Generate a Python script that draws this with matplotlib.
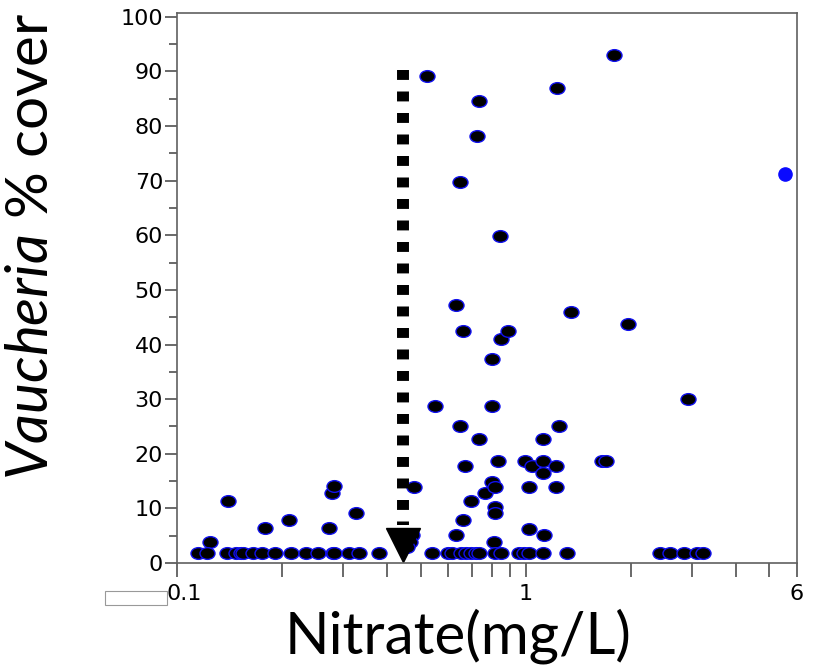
import numpy as np
import matplotlib
matplotlib.use("Agg")
import matplotlib.pyplot as plt
from matplotlib.path import Path
from matplotlib.markers import MarkerStyle
from matplotlib.ticker import FixedLocator, NullFormatter
from matplotlib.transforms import ScaledTranslation
from matplotlib.patches import Rectangle

# sites with some cover
nitrate = [0.124, 0.1403, 0.179, 0.21, 0.272, 0.278, 0.2813, 0.327,
           0.458, 0.473, 0.467, 0.458, 0.479,
           0.522, 0.55, 0.631, 0.631, 0.646, 0.646, 0.661, 0.661, 0.668, 0.695,
           0.723, 0.734, 0.734, 0.762, 0.801, 0.801, 0.801, 0.81, 0.815, 0.815,
           0.815, 0.834, 0.845, 0.851, 0.89,
           0.998, 1.025, 1.025, 1.04, 1.12, 1.12, 1.12, 1.13, 1.218, 1.218,
           1.232, 1.25, 1.348, 1.66, 1.70, 1.795, 1.968, 2.93]
cover = [3.9, 11.4, 6.4, 7.9, 6.4, 12.8, 14.1, 9.2,
         5.1, 5.1, 3.9, 3.0, 14.0,
         89.2, 28.8, 47.3, 5.2, 69.7, 25.0, 42.4, 7.9, 17.8, 11.4,
         78.2, 84.5, 22.7, 12.8, 37.3, 28.8, 14.9, 3.9, 14.0, 10.3,
         9.2, 18.7, 59.8, 41.1, 42.4,
         18.7, 14.0, 6.3, 17.8, 22.7, 18.7, 16.4, 5.2, 17.8, 14.0,
         86.9, 25.0, 46.0, 18.7, 18.7, 93.0, 43.7, 30.1]

# sites at the bottom row (near zero cover)
low_nitrate = [0.115, 0.1216, 0.1387, 0.148, 0.153, 0.1546, 0.165, 0.1753,
               0.1914, 0.2127, 0.2348, 0.2533, 0.2797, 0.2829, 0.3107, 0.3318,
               0.3785, 0.540, 0.599, 0.616, 0.651, 0.673, 0.695, 0.721, 0.734,
               0.819, 0.847, 0.955, 0.987, 1.025, 1.12, 1.312, 2.43, 2.60,
               2.84, 3.11, 3.23]
low_cover = [1.8] * len(low_nitrate)

# odd point in blue
blue_nitrate = [5.54]
blue_cover = [71.3]

# threshold arrow
threshold = 0.445
arrow_top = 90.3
arrow_bottom = 7.0

xticks_major = [0.1, 1, 6]
xtick_labels = ["0.1", "1", "6"]
xticks_minor = [0.2, 0.3, 0.4, 0.5, 0.6, 0.7, 0.8, 0.9, 2, 3, 4, 5]

# slightly flattened circle as marker
circ = Path.unit_circle()
ellipse = Path(circ.vertices * np.array([1.0, 0.78]), circ.codes)

fig = plt.figure(figsize=(8.2, 6.7), dpi=100)
ax = fig.add_axes([177 / 820, 1 - 563 / 670, 620 / 820, 550 / 670])

ax.plot(nitrate + low_nitrate, cover + low_cover, linestyle="none",
        marker=MarkerStyle(ellipse), markersize=10.8, markerfacecolor="black",
        markeredgecolor="#1010ee", markeredgewidth=1.0)
ax.plot(blue_nitrate, blue_cover, linestyle="none", marker="o", markersize=9.5,
        markerfacecolor="#0a0aff", markeredgecolor="#0a0aff")

ax.plot([threshold, threshold], [arrow_top, arrow_bottom], color="black",
        linewidth=8.6, linestyle=(0, (0.83, 0.97)), solid_capstyle="butt",
        dash_capstyle="butt")
ax.plot([threshold], [3.3], marker="v", markersize=24, color="black",
        linestyle="none")

ax.set_xscale("log")
ax.set_xlim(0.1, 6)
ax.set_ylim(0, 100.7)

ax.xaxis.set_major_locator(FixedLocator(xticks_major))
ax.set_xticklabels(xtick_labels)
ax.xaxis.set_minor_locator(FixedLocator(xticks_minor))
ax.xaxis.set_minor_formatter(NullFormatter())
ax.set_yticks(np.arange(0, 101, 10))
ax.set_yticks(np.arange(5, 100, 10), minor=True)

for s in ax.spines.values():
    s.set_color("#606060")
    s.set_linewidth(1.2)

ax.tick_params(axis="both", which="both", colors="#505050", width=1.2,
               labelcolor="black", labelsize=16, direction="out")
ax.tick_params(axis="y", which="major", length=9, pad=1)
ax.tick_params(axis="y", which="minor", length=6)
ax.tick_params(axis="x", which="both", length=10, pad=5)

for lab in ax.get_yticklabels() + ax.get_xticklabels():
    lab.set_family("DejaVu Sans")
first = ax.get_xticklabels()[0]
first.set_horizontalalignment("left")
first.set_transform(first.get_transform() + ScaledTranslation(-10 / 100, 0, fig.dpi_scale_trans))

plt.rcParams["mathtext.fontset"] = "custom"
plt.rcParams["mathtext.it"] = "Lato:italic"
plt.rcParams["mathtext.rm"] = "Lato"

fig.text(458 / 820, 1 - 653 / 670, "Nitrate(mg/L)", family="Lato", fontsize=42,
         ha="center", va="baseline")
fig.text(32 / 820, 1 - 246 / 670, r"$\it{Vaucheria}$ % cover", family="Lato",
         fontsize=42, rotation=90, ha="center", va="center")

# small box left from the x axis
fig.patches.append(Rectangle((105 / 820, 1 - 605 / 670), 62 / 820, 14 / 670,
                             transform=fig.transFigure, facecolor="white",
                             edgecolor="#999999", linewidth=0.8))

fig.savefig("out.png", dpi=100)
